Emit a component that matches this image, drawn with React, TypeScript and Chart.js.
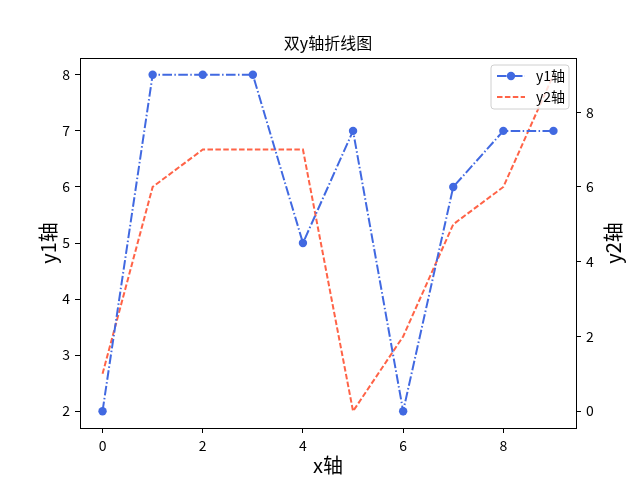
import React, { useEffect, useRef } from "react";
import { Chart, registerables } from "chart.js";

Chart.register(...registerables);

const xValues = [0, 1, 2, 3, 4, 5, 6, 7, 8, 9];
const y1Values = [2, 8, 8, 8, 5, 7, 2, 6, 7, 7];
const y2Values = [1, 6, 7, 7, 7, 0, 2, 5, 6, 9];
const xTicks = [0, 2, 4, 6, 8];
const y1Ticks = [2, 3, 4, 5, 6, 7, 8];
const y2Ticks = [0, 2, 4, 6, 8];
const titleText = "双y轴折线图";
const xLabel = "x轴";
const y1Label = "y1轴";
const y2Label = "y2轴";
const series1Name = "y1轴";
const series2Name = "y2轴";

const FONT = "'Noto Sans CJK SC', 'DejaVu Sans', sans-serif";
const BLUE = "#4169E1";
const RED = "#FF6347";

const decorPlugin = {
  id: "decor",
  afterDraw(chart: any) {
    const ctx = chart.ctx;
    const a = chart.chartArea;
    ctx.save();
    // frame
    ctx.strokeStyle = "#000";
    ctx.lineWidth = 1;
    ctx.strokeRect(Math.round(a.left) + 0.5, Math.round(a.top) + 0.5, Math.round(a.right - a.left), Math.round(a.bottom - a.top));
    // title
    ctx.fillStyle = "#000";
    ctx.textAlign = "center";
    ctx.textBaseline = "middle";
    ctx.font = `16px ${FONT}`;
    ctx.fillText(titleText, (a.left + a.right) / 2, 43);
    // axis labels
    ctx.font = `20px ${FONT}`;
    ctx.fillText(xLabel, (a.left + a.right) / 2, 465);
    ctx.save();
    ctx.translate(48, (a.top + a.bottom) / 2);
    ctx.rotate(-Math.PI / 2);
    ctx.fillText(y1Label, 0, 0);
    ctx.restore();
    ctx.save();
    ctx.translate(613, (a.top + a.bottom) / 2);
    ctx.rotate(-Math.PI / 2);
    ctx.fillText(y2Label, 0, 0);
    ctx.restore();
    // legend
    const bx = 491, by = 65, bw = 78, bh = 44;
    ctx.beginPath();
    const r = 3;
    ctx.moveTo(bx + r, by);
    ctx.lineTo(bx + bw - r, by);
    ctx.quadraticCurveTo(bx + bw, by, bx + bw, by + r);
    ctx.lineTo(bx + bw, by + bh - r);
    ctx.quadraticCurveTo(bx + bw, by + bh, bx + bw - r, by + bh);
    ctx.lineTo(bx + r, by + bh);
    ctx.quadraticCurveTo(bx, by + bh, bx, by + bh - r);
    ctx.lineTo(bx, by + r);
    ctx.quadraticCurveTo(bx, by, bx + r, by);
    ctx.closePath();
    ctx.fillStyle = "rgba(255,255,255,0.8)";
    ctx.fill();
    ctx.strokeStyle = "#d0d0d0";
    ctx.lineWidth = 1;
    ctx.stroke();
    const rows = [
      { name: series1Name, color: BLUE, dash: [9.6, 2.4, 1.5, 2.4], marker: true, y: 76 },
      { name: series2Name, color: RED, dash: [5.5, 2.4], marker: false, y: 97 },
    ];
    rows.forEach((row) => {
      ctx.strokeStyle = row.color;
      ctx.lineWidth = 2;
      ctx.setLineDash(row.dash);
      ctx.beginPath();
      ctx.moveTo(497, row.y);
      ctx.lineTo(525, row.y);
      ctx.stroke();
      ctx.setLineDash([]);
      if (row.marker) {
        ctx.fillStyle = row.color;
        ctx.beginPath();
        ctx.arc(511, row.y, 4.2, 0, Math.PI * 2);
        ctx.fill();
      }
      ctx.fillStyle = "#000";
      ctx.textAlign = "left";
      ctx.font = `14px ${FONT}`;
      ctx.fillText(row.name, 536, row.y);
    });
    ctx.restore();
  },
};

const tickSetter = (vals: number[]) => (scale: any) => {
  scale.ticks = vals.map((v) => ({ value: v }));
};

export default function App() {
  const ref = useRef<HTMLCanvasElement>(null);
  useEffect(() => {
    document.body.style.margin = "0";
    const chart = new Chart(ref.current as HTMLCanvasElement, {
      type: "line",
      data: {
        datasets: [
          {
            label: series1Name,
            data: xValues.map((x, i) => ({ x, y: y1Values[i] })),
            yAxisID: "y1",
            borderColor: BLUE,
            backgroundColor: BLUE,
            borderWidth: 2,
            borderDash: [9.6, 2.4, 1.5, 2.4],
            pointRadius: 4.2,
            pointBackgroundColor: BLUE,
            pointBorderColor: BLUE,
            pointBorderWidth: 0,
            tension: 0,
          },
          {
            label: series2Name,
            data: xValues.map((x, i) => ({ x, y: y2Values[i] })),
            yAxisID: "y2",
            borderColor: RED,
            backgroundColor: RED,
            borderWidth: 2,
            borderDash: [5.5, 2.4],
            pointRadius: 0,
            tension: 0,
          },
        ],
      },
      options: {
        animation: false,
        responsive: false,
        layout: { padding: { top: 58, left: 0, right: 0, bottom: 0 } },
        plugins: { legend: { display: false }, title: { display: false }, tooltip: { enabled: false } },
        scales: {
          x: {
            type: "linear",
            min: -0.45,
            max: 9.45,
            afterBuildTicks: tickSetter(xTicks),
            afterFit: (s: any) => { s.height = 52; },
            grid: { drawOnChartArea: false, drawTicks: true, tickLength: 5, color: "#000" },
            border: { display: true, color: "#000" },
            ticks: { color: "#000", padding: 4, font: { size: 14, family: FONT }, maxRotation: 0 },
          },
          y1: {
            type: "linear",
            position: "left",
            min: 1.7,
            max: 8.3,
            afterBuildTicks: tickSetter(y1Ticks),
            afterFit: (s: any) => { s.width = 80; },
            grid: { drawOnChartArea: false, drawTicks: true, tickLength: 5, color: "#000" },
            border: { display: true, color: "#000" },
            ticks: { color: "#000", padding: 5, font: { size: 14, family: FONT } },
          },
          y2: {
            type: "linear",
            position: "right",
            min: -0.45,
            max: 9.45,
            afterBuildTicks: tickSetter(y2Ticks),
            afterFit: (s: any) => { s.width = 64; },
            grid: { drawOnChartArea: false, drawTicks: true, tickLength: 5, color: "#000" },
            border: { display: true, color: "#000" },
            ticks: { color: "#000", padding: 5, font: { size: 14, family: FONT } },
          },
        },
      },
      plugins: [decorPlugin],
    } as any);
    return () => chart.destroy();
  }, []);
  return (
    <div style={{ position: "fixed", left: 0, top: 0, width: 640, height: 480, background: "#fff" }}>
      <canvas ref={ref} width={640} height={480} style={{ width: 640, height: 480 }} />
    </div>
  );
}
